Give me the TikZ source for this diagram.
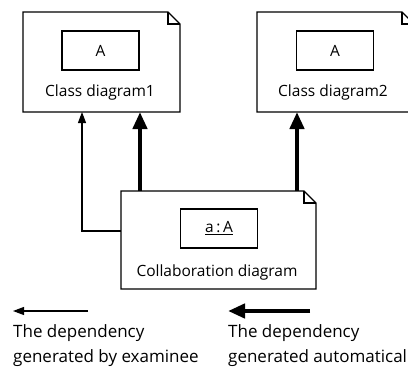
\documentclass[tikz,border=0pt]{standalone}
\usepackage{fontspec}
\setmainfont{Open Sans}
\usetikzlibrary{arrows.meta}
\tikzset{
  lbl/.style={inner sep=0pt, font=\fontsize{15.5}{18}\selectfont},
  leg/.style={inner sep=0pt, anchor=west, font=\fontsize{17}{20}\selectfont},
  cls/.style={draw, line width=1.2pt, minimum width=77pt, minimum height=39pt, inner sep=0pt, font=\fontsize{15.5}{18}\selectfont},
  thinarr/.style={draw, line width=1.1pt, -{Triangle[length=11pt,width=8pt]}},
  thickarr/.style={draw, line width=4.5pt, -{Triangle[length=17pt,width=14pt]}},
  frame/.style={line width=1.2pt}
}
\begin{document}
\begin{tikzpicture}[x=1pt,y=-1pt]
\useasboundingbox (0,0) rectangle (408,370);
% Note 1
\draw[frame] (23,12) -- (168,12) -- (180,24) -- (180,112) -- (23,112) -- cycle;
\draw[frame] (168,12) -- (168,24) -- (180,24);
\node[cls] (A1) at (100.5,50.5) {A};
\node[lbl] (L1) at (100,92) {Class diagram1};
% Note 2
\draw[frame] (257,12) -- (402,12) -- (414,24) -- (414,112) -- (257,112) -- cycle;
\draw[frame] (402,12) -- (402,24) -- (414,24);
\node[cls] (A2) at (335,50.5) {A};
\node[lbl] (L2) at (333,92) {Class diagram2};
% Note 3
\draw[frame] (121,191) -- (304,191) -- (316,203) -- (316,289) -- (121,289) -- cycle;
\draw[frame] (304,191) -- (304,203) -- (316,203);
\node[cls] (a) at (219,228.5) {\underline{a\,:\,A}};
\node[lbl] (L3) at (217,272) {Collaboration diagram};
% Connectors
\coordinate (c1) at (121,231);
\coordinate (t1) at (82,112);
\draw[thinarr] (c1) -| (t1);
\coordinate (s2) at (140,191);
\coordinate (t2) at (140,112);
\draw[thickarr] (s2) -- (t2);
\coordinate (s3) at (297,191);
\coordinate (t3) at (297,112);
\draw[thickarr] (s3) -- (t3);
% Legend
\coordinate (lg1s) at (88,311);
\coordinate (lg1e) at (13,311);
\draw[thinarr] (lg1s) -- (lg1e);
\coordinate (lg2s) at (310,311);
\coordinate (lg2e) at (228,311);
\draw[thickarr] (lg2s) -- (lg2e);
\node[leg] (T1) at (13,333) {The dependency};
\node[leg] (T2) at (13,358) {generated by examinee};
\node[leg] (T3) at (228,333) {The dependency};
\node[leg] (T4) at (228,358) {generated automatical};
\end{tikzpicture}
\end{document}
